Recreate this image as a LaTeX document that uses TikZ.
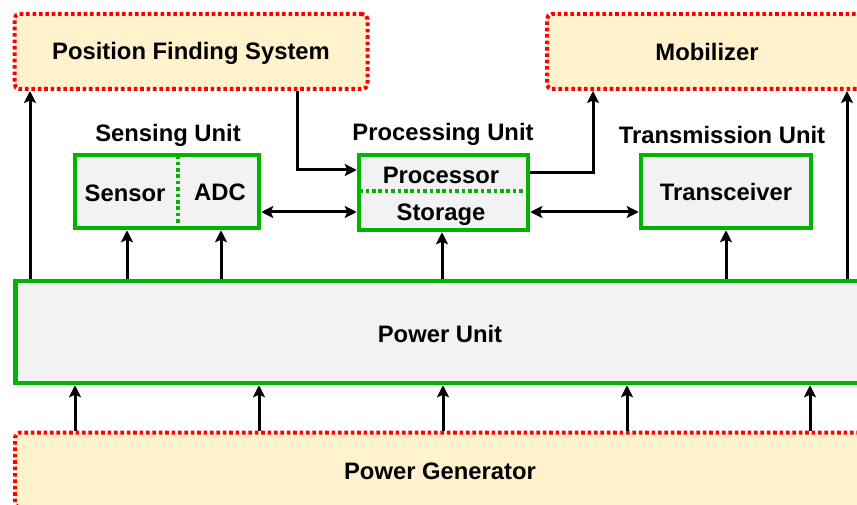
\documentclass[tikz,border=0pt]{standalone}
\usepackage{fontspec}
\setmainfont{Liberation Sans}
\usetikzlibrary{arrows.meta}
\definecolor{ored}{RGB}{255,0,0}
\definecolor{ofill}{RGB}{255,242,204}
\definecolor{ogreen}{RGB}{0,180,0}
\definecolor{ogrey}{RGB}{242,242,242}
\tikzset{
  every node/.style={font=\fontsize{23.8pt}{28pt}\selectfont\bfseries, inner sep=0pt},
  extbox/.style={draw=ored, fill=ofill, line width=4pt, dash pattern=on 3.6pt off 2.8pt, rounded corners=5pt},
  unitbox/.style={draw=ogreen, fill=ogrey, line width=4.5pt},
  divider/.style={draw=ogreen, line width=4pt, dash pattern=on 3.6pt off 2.8pt, shorten <=2.5pt, shorten >=2.5pt},
  arr/.style={draw=black, line width=3pt, -{Stealth[length=12pt,width=12pt,inset=2.5pt]}},
  darr/.style={draw=black, line width=3pt, {Stealth[length=12pt,width=12pt,inset=2.5pt]}-{Stealth[length=12pt,width=12pt,inset=2.5pt]}},
}
\begin{document}
\begin{tikzpicture}[x=1pt,y=-1pt]
\useasboundingbox (0,0) rectangle (857,505);
\clip (0,0) rectangle (857,505);
% external boxes
\node[extbox, minimum width=353pt, minimum height=75pt] (pfs) at (191,51.5) {};
\node at (191,53) {Position Finding System};
\node[extbox, minimum width=320pt, minimum height=75pt] (mob) at (707,51.5) {};
\node at (707,52) {Mobilizer};
% unit labels
\node (sensl) at (168,135) {Sensing Unit};
\node (procl) at (443,134) {Processing Unit};
\node (transl) at (722,135) {Transmission Unit};
% sensing unit
\node[unitbox, minimum width=184pt, minimum height=73pt] (sens) at (167,191.5) {};
\draw[divider] (sens.north -| 178,0) -- (sens.south -| 178,0);
\node (sensor) at (125,193) {Sensor};
\node (adc) at (220,192) {ADC};
% processing unit
\node[unitbox, minimum width=169pt, minimum height=75pt] (proc) at (443.5,192.5) {};
\draw[divider] (proc.west |- 0,191) -- (proc.east |- 0,191);
\node (processor) at (441,175) {Processor};
\node (storage) at (441,215) {Storage};
% transmission unit
\node[unitbox, minimum width=170pt, minimum height=73pt] (trans) at (726,191.5) {};
\node (transceiver) at (726,192) {Transceiver};
% power unit
\node[unitbox, minimum width=849pt, minimum height=102pt] (pu) at (440,332) {};
\node (pul) at (440,334) {Power Unit};
% power generator
\node[extbox, minimum width=850pt, minimum height=75pt] (pg) at (440,470) {};
\node (pgl) at (440,471) {Power Generator};
% connectors
\draw[arr] (pu.north -| 30,0) -- (pfs.south -| 30,0);
\draw[arr] (pu.north -| 847,0) -- (mob.south -| 847,0);
\draw[arr] (pfs.south -| 297,0) |- (proc.west |- 0,170);
\draw[arr] (proc.east |- 0,173) -| (mob.south -| 593,0);
\draw[darr] (sens.east |- 0,212) -- (proc.west |- 0,212);
\draw[darr] (proc.east |- 0,212) -- (trans.west |- 0,212);
\draw[arr] (pu.north -| 127,0) -- (sens.south -| 127,0);
\draw[arr] (pu.north -| 221,0) -- (sens.south -| 221,0);
\draw[arr] (pu.north -| 442,0) -- (proc.south -| 442,0);
\draw[arr] (pu.north -| 726,0) -- (trans.south -| 726,0);
\foreach \x in {75,259,443,627,810}
  \draw[arr] (pg.north -| \x,0) -- (pu.south -| \x,0);
\end{tikzpicture}
\end{document}
